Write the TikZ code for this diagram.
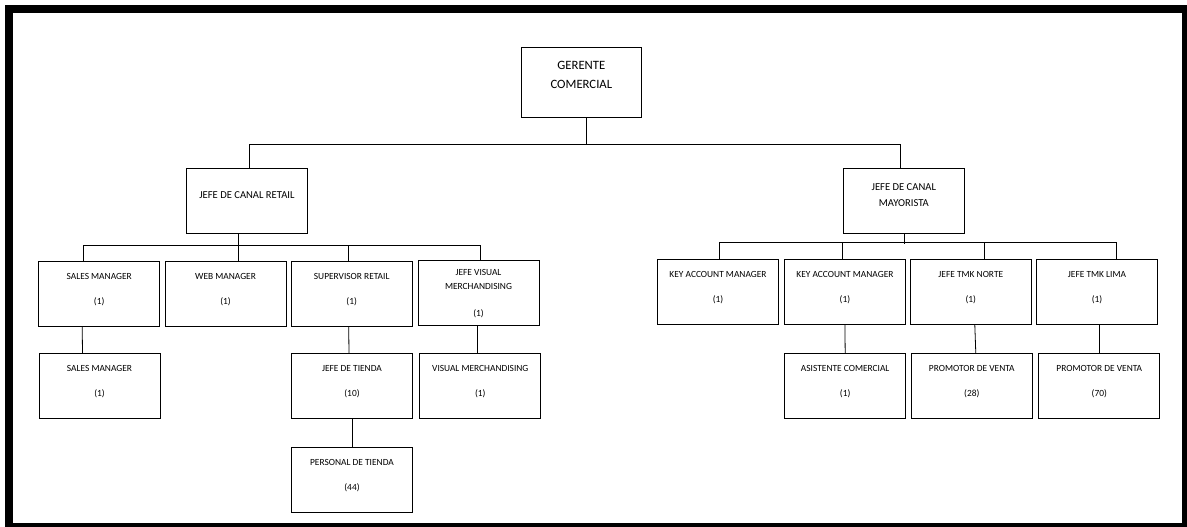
\documentclass[tikz,border=0pt]{standalone}
\usepackage{fontspec}
\setmainfont{Carlito}

\begin{document}
\begin{tikzpicture}[x=1pt,y=-1pt,
	caja/.style={draw=black,line width=0.8pt,minimum width=121pt,minimum height=64.5pt,inner sep=0pt,align=center,
		text height=21pt,text depth=0pt,font=\fontsize{9.4}{11.3}\selectfont},
	jefe/.style={caja,font=\fontsize{10.6}{12.7}\selectfont},
	linea/.style={line width=0.8pt}]
	          %marco
	          \useasboundingbox (0,0) rectangle (1187,527);
	          \fill[black] (5,5) rectangle (1187,527);
	          \fill[white] (12.7,12.7) rectangle (1182,522.7);

	          \node[caja,minimum width=119.3pt,minimum height=70pt,text height=12.2pt,font=\fontsize{12.7}{15.2}\selectfont] (gerente) at (581.35,82.3) {GERENTE\\[4.1pt]COMERCIAL};
	          \node[jefe,text height=8pt,text depth=13.2pt] (retail) at (246.9,201) {JEFE DE CANAL RETAIL};
	          \node[jefe,text height=11.4pt] (mayorista) at (903.8,201) {JEFE DE CANAL\\[3.9pt]MAYORISTA};

	          %canal retail
	          \node[caja] (sm1) at (99.2,293.7) {SALES MANAGER\\[13.9pt](1)};
	          \node[caja] (web) at (225.5,293.7) {WEB MANAGER\\[13.9pt](1)};
	          \node[caja] (sup) at (351.7,293.7) {SUPERVISOR RETAIL\\[13.9pt](1)};
	          \node[caja,text height=47.4pt] (jvm) at (478.5,292.8) {JEFE VISUAL\\[2.1pt]MERCHANDISING\\[16pt](1)};
	          \node[caja] (sm2) at (99.5,386) {SALES MANAGER\\[13.9pt](1)};
	          \node[caja] (tienda) at (352,386) {JEFE DE TIENDA\\[13.9pt](10)};
	          \node[caja] (vm) at (480.3,386) {VISUAL MERCHANDISING\\[13.9pt](1)};
	          \node[caja] (personal) at (352,479.8) {PERSONAL DE TIENDA\\[13.9pt](44)};

	          %canal mayorista
	          \node[caja] (kam1) at (718,292) {KEY ACCOUNT MANAGER\\[13.9pt](1)};
	          \node[caja] (kam2) at (844.9,292) {KEY ACCOUNT MANAGER\\[13.9pt](1)};
	          \node[caja] (tmkn) at (970.8,292) {JEFE TMK NORTE\\[13.9pt](1)};
	          \node[caja] (tmkl) at (1097,292) {JEFE TMK LIMA\\[13.9pt](1)};
	          \node[caja] (asist) at (845.2,386) {ASISTENTE COMERCIAL\\[13.9pt](1)};
	          \node[caja] (prom1) at (971.8,386) {PROMOTOR DE VENTA\\[13.9pt](28)};
	          \node[caja] (prom2) at (1099.3,386) {PROMOTOR DE VENTA\\[13.9pt](70)};

	          %lineas
	          \draw[linea] ([xshift=4.6pt]gerente.south) -- ++(0,26.7) coordinate (busG) -| ([xshift=2pt]retail.north);
	          \draw[linea] (busG) -| ([xshift=-3pt]mayorista.north);

	          \draw[linea] ([xshift=-8.5pt]retail.south) -- ([xshift=13pt]web.north);
	          \draw[linea] ([xshift=-16pt]sm1.north) -- ++(0,-15.5) -| ([xshift=1.8pt]jvm.north);
	          \draw[linea] ([xshift=-3.4pt]sup.north) -- ++(0,-15.5);
	          \draw[linea] ([xshift=-17pt]sm1.south) -- ([xshift=-17pt]sm2.north);
	          \draw[linea] ([xshift=-3pt]sup.south) -- ([xshift=-3pt]tienda.north);
	          \draw[linea] (tienda.south) -- (personal.north);
	          \draw[linea] ([xshift=-1.5pt]jvm.south) -- ([xshift=-3.3pt]vm.north);

	          \draw[linea] ([xshift=0.5pt]mayorista.south) -- ++(0,10);
	          \draw[linea] ([xshift=1pt]kam1.north) -- ++(0,-16.5) -| ([xshift=19pt]tmkl.north);
	          \draw[linea] ([xshift=-2.6pt]kam2.north) -- ++(0,-16.5);
	          \draw[linea] ([xshift=13.5pt]tmkn.north) -- ++(0,-16.5);
	          \draw[linea] (kam2.south) -- (asist.north);
	          \draw[linea] ([xshift=4pt]tmkn.south) -- ([xshift=4pt]prom1.north);
	          \draw[linea] ([xshift=2.3pt]tmkl.south) -- (prom2.north);
\end{tikzpicture}
\end{document}
